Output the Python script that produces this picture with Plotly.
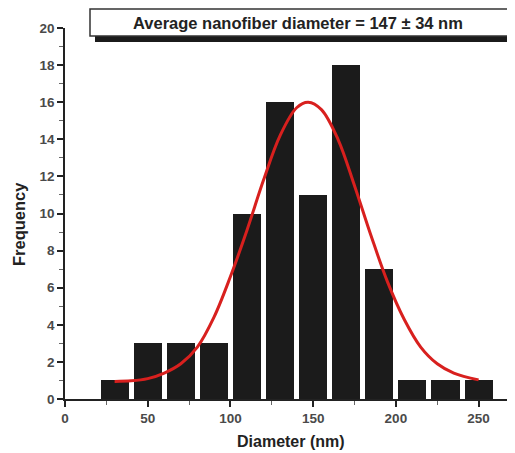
import plotly.graph_objects as go

# Histogram data
bin_centers = [30, 50, 70, 90, 110, 130, 150, 170, 190, 210, 230, 250]
frequency = [1, 3, 3, 3, 10, 16, 11, 18, 7, 1, 1, 1]

# Fitted curve points
fit_x = [30, 40, 50, 60, 70, 80, 90, 100, 110, 120, 130, 140, 147, 155, 165,
         175, 185, 195, 205, 215, 225, 235, 250]
fit_y = [0.95, 0.98, 1.1, 1.4, 1.9, 2.8, 4.4, 6.6, 9.1, 11.8, 14.2, 15.7, 16.0,
         15.6, 14.0, 11.5, 8.8, 6.3, 4.3, 2.8, 1.9, 1.4, 1.03]

title_text = "Average nanofiber diameter = 147 ± 34 nm"
x_ticks = [0, 50, 100, 150, 200, 250]
y_ticks = [0, 2, 4, 6, 8, 10, 12, 14, 16, 18, 20]

FONT = "Arial, Liberation Sans, sans-serif"

fig = go.Figure()
fig.add_trace(go.Bar(x=bin_centers, y=frequency, width=17,
                     marker=dict(color="#1b1b1b", line=dict(width=0)),
                     showlegend=False))
fig.add_trace(go.Scatter(x=fit_x, y=fit_y, mode="lines",
                         line=dict(color="#d8201e", width=3, shape="spline"),
                         showlegend=False))

OFF = 8  # page body margin
W, H = 515 - OFF, 453 - OFF
L, T, B, R = 65 - OFF, 28 - OFF, 54, 0
pw = W - L - R
ph = H - T - B

def px_x(p):
    return (p - OFF - L) / pw

def px_y(p):
    return (H - B - (p - OFF)) / ph

tickfont = dict(family=FONT, size=13.5, color="#4a4a4a", weight="bold")

fig.update_layout(
    width=W, height=H,
    margin=dict(l=L, r=R, t=T, b=B),
    plot_bgcolor="white", paper_bgcolor="white",
    bargap=0,
    xaxis=dict(range=[0, 272], tickvals=x_ticks, ticks="outside", ticklen=6,
               tickwidth=1.5, tickcolor="#222", showline=True, linecolor="#222",
               linewidth=1.5, showgrid=False, zeroline=False,
               minor=dict(dtick=25, tick0=0, ticks="outside", ticklen=4,
                          tickwidth=1, tickcolor="#666"),
               tickfont=tickfont),
    yaxis=dict(range=[0, 20], tickvals=y_ticks, ticks="outside", ticklen=6,
               tickwidth=1.5, tickcolor="#222", showline=True, linecolor="#222",
               linewidth=1.5, showgrid=False, zeroline=False,
               minor=dict(dtick=1, tick0=0, ticks="outside", ticklen=4,
                          tickwidth=1, tickcolor="#666"),
               tickfont=tickfont),
)

# Axis titles
fig.add_annotation(x=px_x(291), y=px_y(441), xref="paper", yref="paper",
                   text="Diameter (nm)", showarrow=False, xanchor="center", yanchor="middle",
                   font=dict(family=FONT, size=16, color="#222", weight="bold"))
fig.add_annotation(x=px_x(19), y=px_y(224), xref="paper", yref="paper",
                   text="Frequency", showarrow=False, xanchor="center", yanchor="middle",
                   textangle=-90,
                   font=dict(family=FONT, size=16.5, color="#222", weight="bold"))

# Title box with drop shadow
fig.add_shape(type="rect", xref="paper", yref="paper",
              x0=px_x(95), x1=px_x(514), y0=px_y(42), y1=px_y(15),
              fillcolor="#1b1b1b", line=dict(width=0), layer="above")
fig.add_shape(type="rect", xref="paper", yref="paper",
              x0=px_x(90), x1=px_x(508), y0=px_y(36), y1=px_y(9),
              fillcolor="white", line=dict(color="#333", width=1.5), layer="above")
fig.add_annotation(x=px_x(298), y=px_y(22.5), xref="paper", yref="paper",
                   text=title_text, showarrow=False, xanchor="center", yanchor="middle",
                   font=dict(family=FONT, size=16.5, color="#222", weight="bold"))

fig.write_html("out.html")
